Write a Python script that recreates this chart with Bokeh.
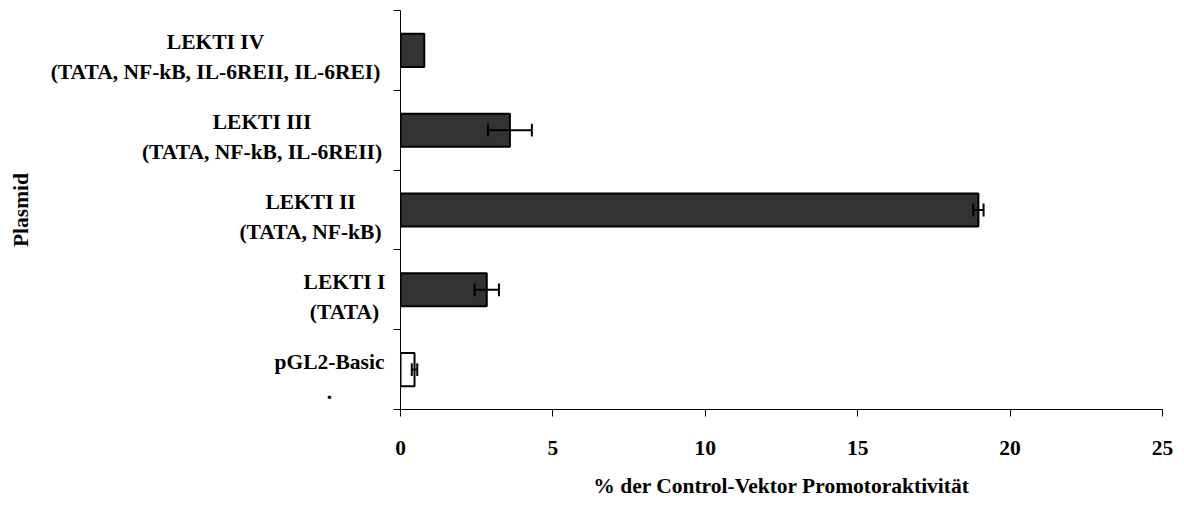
import numpy as np
from bokeh.plotting import figure
from bokeh.layouts import row
from bokeh.models import FixedTicker, Range1d, ColumnDataSource
from bokeh.core.properties import value
from bokeh.embed import file_html
from bokeh.resources import INLINE

# ---- data (bottom to top) ----
names = ["pGL2-Basic", "LEKTI I", "LEKTI II", "LEKTI III", "LEKTI IV"]
subtitles = [".", "(TATA)", "(TATA, NF-kB)", "(TATA, NF-kB, IL-6REII)", "(TATA, NF-kB, IL-6REII, IL-6REI)"]
values = [0.46, 2.83, 18.96, 3.59, 0.78]
errors = [0.09, 0.40, 0.17, 0.72, 0.0]
bar_colors = ["white", "#333333", "#333333", "#333333", "#333333"]
x_ticks = [0, 5, 10, 15, 20, 25]
x_title = "% der Control-Vektor Promotoraktivität"
y_title = "Plasmid"

FONT = "Liberation Serif"
FS = "21.5px"

H = 505
MT, MB = 10, 96
FH = H - MT - MB
LW = 392                 # width of the label panel
MW = 1184 - LW           # width of the main chart
ML, MR = 8, 22
N = len(names)
px_per_y = FH / N
ycent = np.arange(N) + 0.5

# ---------------- main chart ----------------
p = figure(width=MW, height=H, output_backend="svg", toolbar_location=None,
           x_range=Range1d(0, 25), y_range=Range1d(0, N),
           min_border_left=ML, min_border_right=MR, min_border_top=MT, min_border_bottom=MB)
p.outline_line_color = None
p.grid.visible = False

p.hbar(y=ycent, right=values, left=0, height=0.415, fill_color=bar_colors,
       line_color="black", line_width=2)

vals = np.array(values)
errs = np.array(errors)
mask = errs > 0
p.segment(x0=(vals - errs)[mask], x1=(vals + errs)[mask], y0=ycent[mask], y1=ycent[mask],
          line_color="black", line_width=2)
cap = 0.08
for sign in (-1, 1):
    xc = (vals + sign * errs)[mask]
    p.segment(x0=xc, x1=xc, y0=ycent[mask] - cap, y1=ycent[mask] + cap,
              line_color="black", line_width=2)

xa = p.xaxis[0]
xa.ticker = FixedTicker(ticks=x_ticks, minor_ticks=[])
xa.major_tick_out = 7
xa.major_tick_in = 0
xa.axis_line_color = "black"
xa.major_tick_line_color = "black"
xa.major_label_text_font = FONT
xa.major_label_text_font_style = "bold"
xa.major_label_text_font_size = FS
xa.major_label_text_color = "black"
xa.major_label_standoff = 24
xa.axis_label = x_title
xa.axis_label_text_font = FONT
xa.axis_label_text_font_style = "bold"
xa.axis_label_text_font_size = FS
xa.axis_label_text_color = "black"
xa.axis_label_standoff = 16

ya = p.yaxis[0]
ya.ticker = FixedTicker(ticks=list(range(N + 1)), minor_ticks=[])
ya.major_tick_out = 7
ya.major_tick_in = 0
ya.major_label_overrides = {i: "" for i in range(N + 1)}
ya.major_label_standoff = 0
ya.axis_line_color = "black"
ya.major_tick_line_color = "black"

# ---------------- label panel ----------------
q = figure(width=LW, height=H, output_backend="svg", toolbar_location=None,
           x_range=Range1d(0, LW), y_range=Range1d(0, N),
           x_axis_type=None, y_axis_type=None,
           min_border_left=0, min_border_right=0, min_border_top=MT, min_border_bottom=MB)
q.outline_line_color = None
q.grid.visible = False

label_center_px = [329, 344, 310, 261.5, 215]
line_off_px = [-8, 22]
src1 = ColumnDataSource(dict(x=label_center_px, y=list(ycent - line_off_px[0] / px_per_y), t=names))
src2 = ColumnDataSource(dict(x=label_center_px, y=list(ycent - line_off_px[1] / px_per_y), t=subtitles))
for src in (src1, src2):
    q.text(x="x", y="y", text="t", source=src, text_font=value(FONT), text_font_style="bold",
           text_font_size=value(FS), text_align="center", text_baseline="alphabetic",
           text_color="black")

q.text(x=[20], y=[N / 2], text=[y_title], angle=np.pi / 2, text_font=value(FONT),
       text_font_style="bold", text_font_size=value(FS), text_align="center",
       text_baseline="alphabetic", text_color="black")

layout = row(q, p, spacing=0)
open("out.html", "w").write(file_html(layout, INLINE))
